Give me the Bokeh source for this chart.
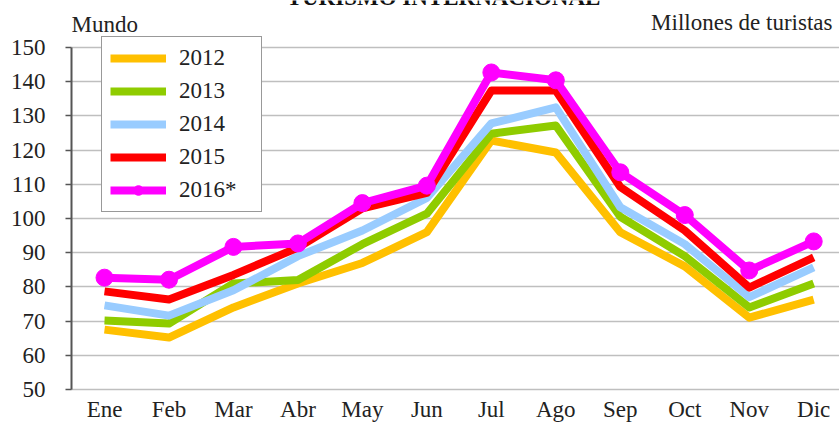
from bokeh.plotting import figure
from bokeh.models import Range1d, Label, Legend, LegendItem
from bokeh.embed import file_html
from bokeh.resources import INLINE

months = ["Ene", "Feb", "Mar", "Abr", "May", "Jun", "Jul", "Ago", "Sep", "Oct", "Nov", "Dic"]
y2012 = [67.5, 65.2, 74.0, 81.0, 87.0, 96.0, 122.8, 119.3, 96.0, 86.0, 71.0, 76.3]
y2013 = [70.2, 69.3, 81.0, 82.0, 92.5, 101.4, 124.8, 127.2, 100.5, 89.0, 74.0, 81.0]
y2014 = [74.6, 71.6, 79.0, 89.0, 96.5, 106.0, 127.8, 132.5, 103.3, 92.5, 77.0, 85.7]
y2015 = [78.7, 76.3, 83.5, 91.5, 103.0, 107.5, 137.4, 137.4, 109.2, 96.5, 79.8, 88.6]
y2016 = [82.7, 82.1, 91.7, 92.7, 104.5, 109.6, 142.7, 140.4, 113.5, 101.0, 84.8, 93.3]
series_names = ["2012", "2013", "2014", "2015", "2016*"]
y_ticks = [50, 60, 70, 80, 90, 100, 110, 120, 130, 140, 150]

colors = ["#FFC000", "#8FCC00", "#99CCFF", "#FF0000", "#FF00FF"]
FONT = "Liberation Serif"

x = list(range(len(months)))

# frame reaches the top of the canvas so that texts above the 150 line are not clipped
p = figure(width=839, height=426, output_backend="svg", toolbar_location=None,
           x_range=Range1d(-0.512, 11.40), y_range=Range1d(50, 163.74),
           min_border_left=71, min_border_right=0, min_border_top=0,
           min_border_bottom=37)
p.outline_line_color = None
p.background_fill_color = "white"
p.border_fill_color = "white"

# grid
p.xgrid.grid_line_color = None
p.ygrid.grid_line_color = "#BFBFBF"
p.ygrid.grid_line_width = 1.5
p.ygrid.ticker = y_ticks

# y axis
p.yaxis.ticker = y_ticks
p.yaxis.bounds = (y_ticks[0], y_ticks[-1])
p.yaxis.axis_line_color = "#555555"
p.yaxis.axis_line_width = 2
p.yaxis.major_tick_line_color = "#555555"
p.yaxis.major_tick_line_width = 1.5
p.yaxis.major_tick_out = 6
p.yaxis.major_tick_in = 0
p.yaxis.minor_tick_line_color = None
p.yaxis.major_label_text_font = FONT
p.yaxis.major_label_text_font_size = "23px"
p.yaxis.major_label_text_color = "#222222"
p.yaxis.major_label_standoff = 20

# x axis
p.xaxis.ticker = x
p.xaxis.major_label_overrides = {i: m for i, m in zip(x, months)}
p.xaxis.axis_line_color = "#BFBFBF"
p.xaxis.axis_line_width = 1.5
p.xaxis.major_tick_line_color = None
p.xaxis.minor_tick_line_color = None
p.xaxis.major_label_text_font = FONT
p.xaxis.major_label_text_font_size = "23px"
p.xaxis.major_label_text_color = "#222222"
p.xaxis.major_label_standoff = 1

items = []
all_series = [y2012, y2013, y2014, y2015, y2016]
for name, ys, c in zip(series_names, all_series, colors):
    r = p.line(x, ys, line_color=c, line_width=8, line_join="round")
    rs = [r]
    if name == "2016*":
        s = p.scatter(x, ys, size=17, marker="circle", fill_color=c, line_color=c)
        rs.append(s)
    items.append(LegendItem(label=name, renderers=rs))

legend = Legend(items=items, location=(30, 177))
legend.label_text_font = FONT
legend.label_text_font_size = "23px"
legend.label_text_color = "#222222"
legend.glyph_width = 56
legend.glyph_height = 24
legend.label_height = 24
legend.label_width = 74
legend.spacing = 7
legend.padding = 8
legend.margin = 0
legend.label_standoff = 13
legend.border_line_color = "#333333"
legend.border_line_width = 1.5
legend.background_fill_alpha = 1
p.add_layout(legend, "center")

# texts (screen units relative to the plot frame, y up from frame bottom)
p.add_layout(Label(x=0, y=365, x_units="screen", y_units="screen", text="Mundo",
                   text_font=FONT, text_font_size="23px", text_baseline="alphabetic",
                   text_align="left", text_color="#222222"))
p.add_layout(Label(x=761, y=367, x_units="screen", y_units="screen",
                   text="Millones de turistas", text_font=FONT, text_font_size="23px",
                   text_baseline="alphabetic", text_align="right", text_color="#222222"))
p.add_layout(Label(x=372, y=392, x_units="screen", y_units="screen",
                   text="TURISMO INTERNACIONAL", text_font=FONT, text_font_size="23px",
                   text_font_style="bold", text_baseline="alphabetic",
                   text_align="center", text_color="#111111"))

open("out.html", "w").write(file_html(p, INLINE))
